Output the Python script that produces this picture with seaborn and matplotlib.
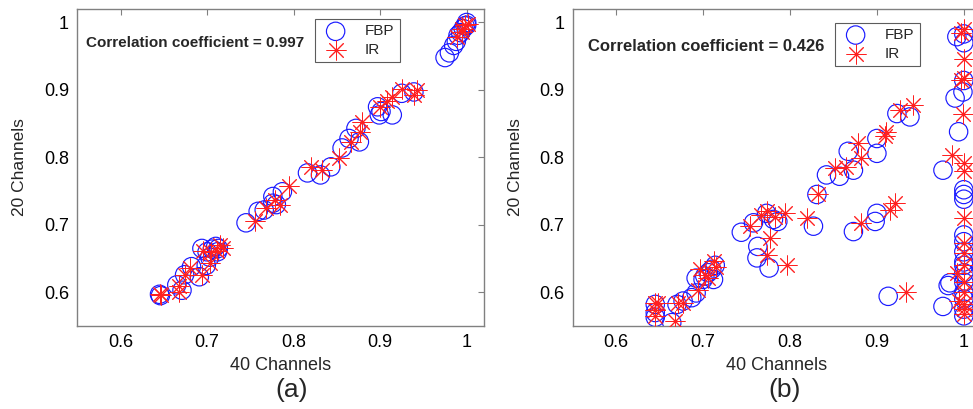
import matplotlib
matplotlib.use("Agg")
import matplotlib.pyplot as plt
from matplotlib.ticker import FuncFormatter
import seaborn as sns

# ── Data ──────────────────────────────────────────────────────────────────────
# panel (a): 40 vs 20 channels, FBP circles / IR asterisks
fbp_a_x = [0.645, 0.646, 0.665, 0.671, 0.674, 0.682, 0.691, 0.694, 0.699, 0.700,
           0.703, 0.706, 0.710, 0.712, 0.713, 0.745, 0.759, 0.766, 0.776, 0.776,
           0.780, 0.787, 0.816, 0.831, 0.843, 0.856, 0.864, 0.872, 0.876, 0.897,
           0.899, 0.901, 0.914, 0.925, 0.939, 0.975, 0.980, 0.985, 0.988, 0.990,
           0.993, 0.996, 0.998, 1.000, 1.000]
fbp_a_y = [0.597, 0.595, 0.611, 0.603, 0.626, 0.638, 0.623, 0.665, 0.640, 0.660,
           0.652, 0.664, 0.668, 0.660, 0.665, 0.703, 0.720, 0.722, 0.742, 0.732,
           0.730, 0.749, 0.777, 0.774, 0.786, 0.814, 0.828, 0.843, 0.823, 0.875,
           0.863, 0.868, 0.863, 0.895, 0.897, 0.948, 0.955, 0.966, 0.972, 0.981,
           0.985, 0.991, 0.995, 1.000, 0.996]
ir_a_x = [0.645, 0.647, 0.667, 0.668, 0.674, 0.680, 0.694, 0.695, 0.703, 0.705,
          0.711, 0.715, 0.718, 0.755, 0.768, 0.778, 0.784, 0.795, 0.820, 0.833,
          0.853, 0.866, 0.877, 0.879, 0.900, 0.908, 0.914, 0.925, 0.939, 0.943,
          0.989, 0.994, 0.995, 0.998, 1.002]
ir_a_y = [0.597, 0.596, 0.609, 0.600, 0.626, 0.636, 0.626, 0.661, 0.643, 0.660,
          0.661, 0.670, 0.666, 0.705, 0.725, 0.737, 0.730, 0.757, 0.786, 0.781,
          0.799, 0.823, 0.838, 0.853, 0.875, 0.883, 0.890, 0.902, 0.892, 0.900,
          0.979, 0.986, 0.990, 0.996, 0.998]

# panel (b)
fbp_b_x = [0.645, 0.645, 0.645, 0.670, 0.664, 0.677, 0.687, 0.692, 0.692, 0.700,
           0.702, 0.706, 0.712, 0.714, 0.710, 0.744, 0.758, 0.763, 0.762, 0.776,
           0.773, 0.781, 0.786, 0.827, 0.831, 0.873, 0.898, 0.900, 0.913, 0.842,
           0.857, 0.867, 0.873, 0.900, 0.900, 0.923, 0.938, 0.976, 0.990, 0.994,
           0.999, 1.000, 0.992, 1.000, 1.000, 0.976, 0.984, 0.982, 1.000, 1.000,
           1.000, 1.000, 1.000, 1.000, 1.000, 1.000, 1.000, 1.000, 1.000, 1.000,
           1.000, 1.000]
fbp_b_y = [0.582, 0.570, 0.563, 0.582, 0.555, 0.587, 0.592, 0.599, 0.621, 0.619,
           0.624, 0.629, 0.619, 0.640, 0.634, 0.689, 0.703, 0.668, 0.651, 0.636,
           0.717, 0.708, 0.705, 0.698, 0.745, 0.690, 0.705, 0.717, 0.594, 0.774,
           0.772, 0.809, 0.781, 0.828, 0.806, 0.865, 0.860, 0.781, 0.888, 0.838,
           0.897, 0.914, 0.979, 0.983, 0.970, 0.579, 0.614, 0.610, 0.745, 0.738,
           0.685, 0.675, 0.645, 0.640, 0.615, 0.600, 0.590, 0.575, 0.565, 0.752,
           0.629, 0.660]
ir_b_x = [0.645, 0.645, 0.645, 0.648, 0.668, 0.671, 0.677, 0.694, 0.696, 0.702,
          0.706, 0.712, 0.715, 0.754, 0.767, 0.773, 0.777, 0.773, 0.783, 0.794,
          0.796, 0.819, 0.832, 0.882, 0.915, 0.921, 0.934, 0.852, 0.865, 0.878,
          0.882, 0.909, 0.911, 0.926, 0.942, 0.986, 1.000, 1.000, 0.999, 0.997,
          1.000, 1.000, 1.000, 0.997, 1.000, 1.000, 1.000, 0.992, 1.000, 1.000,
          1.000, 0.994, 1.000, 1.000, 1.000]
ir_b_y = [0.584, 0.573, 0.565, 0.584, 0.557, 0.584, 0.584, 0.604, 0.634, 0.626,
          0.621, 0.646, 0.638, 0.698, 0.715, 0.720, 0.680, 0.656, 0.712, 0.717,
          0.641, 0.710, 0.745, 0.703, 0.722, 0.732, 0.601, 0.784, 0.786, 0.821,
          0.799, 0.831, 0.838, 0.870, 0.878, 0.804, 0.791, 0.780, 0.865, 0.915,
          0.917, 0.946, 0.990, 0.985, 0.710, 0.673, 0.658, 0.629, 0.640, 0.615,
          0.600, 0.587, 0.582, 0.575, 0.568]

corr = ["0.997", "0.426"]
panel_tags = ["(a)", "(b)"]
ticks = [0.6, 0.7, 0.8, 0.9, 1.0]

# ── Style ────────────────────────────────────────────────────────────────────
sns.set_style("white")
plt.rcParams["font.family"] = ["Liberation Sans", "DejaVu Sans"]
plt.rcParams.update({
    "xtick.direction": "in", "ytick.direction": "in",
    "xtick.top": True, "ytick.right": True,
    "xtick.major.size": 4, "ytick.major.size": 4,
    "xtick.color": "#808080", "ytick.color": "#808080",
    "xtick.labelcolor": "black", "ytick.labelcolor": "black",
    "axes.edgecolor": "#808080", "axes.linewidth": 1.0,
})

W, H = 973, 409
fig = plt.figure(figsize=(W / 100, H / 100), dpi=100)

# axes boxes in pixels: left, top, width, height
boxes = [(77.3, 9, 406.7, 317), (572.7, 9, 408.5, 317)]
panels = [(fbp_a_x, fbp_a_y, ir_a_x, ir_a_y), (fbp_b_x, fbp_b_y, ir_b_x, ir_b_y)]
corr_pos = [(86, 43, 11.0), (588, 46.5, 12.0)]
legend_pos = [(315, 19), (835, 22.7)]
tag_x = [292, 785]

fmt = FuncFormatter(lambda v, _: "1" if abs(v - 1) < 1e-9 else f"{v:.1f}")

for i, ((l, t, w, h), (fx, fy, ix, iy)) in enumerate(zip(boxes, panels)):
    ax = fig.add_axes([l / W, 1 - (t + h) / H, w / W, h / H])
    sns.scatterplot(x=fx, y=fy, ax=ax, marker="o", s=175,
                    facecolor="none", edgecolor="#1a1aff", linewidth=0.85,
                    label="FBP", zorder=2)
    sns.scatterplot(x=ix, y=iy, ax=ax, marker=(8, 2, 0), s=190,
                    color="#ff2020", linewidth=0.7, label="IR", zorder=3)
    ax.set_xlim(0.55, 1.02)
    ax.set_ylim(0.55, 1.02)
    ax.set_xticks(ticks)
    ax.set_yticks(ticks)
    ax.xaxis.set_major_formatter(fmt)
    ax.yaxis.set_major_formatter(fmt)
    ax.tick_params(labelsize=13, pad=6)
    ax.set_xlabel("40 Channels", fontsize=13, labelpad=4)
    ax.set_ylabel("20 Channels", fontsize=12.5, labelpad=12)

    cx, cy, cs = corr_pos[i]
    fig.text(cx / W, 1 - cy / H, f"Correlation coefficient = {corr[i]}",
             fontsize=cs, fontweight="bold", va="center", ha="left")

    lx, ly = legend_pos[i]
    leg = ax.legend(loc="upper left", bbox_to_anchor=(lx / W, 1 - ly / H),
                    bbox_transform=fig.transFigure, fontsize=11,
                    frameon=True, fancybox=False, borderpad=0.35,
                    handletextpad=0.9, labelspacing=0.3, handlelength=2.0,
                    borderaxespad=0)
    leg.get_frame().set_edgecolor("#333333")
    leg.get_frame().set_linewidth(0.8)

    fig.text(tag_x[i] / W, 1 - 390 / H, panel_tags[i], fontsize=19,
             ha="center", va="center")

fig.savefig("out.png", dpi=100)
plt.close(fig)
